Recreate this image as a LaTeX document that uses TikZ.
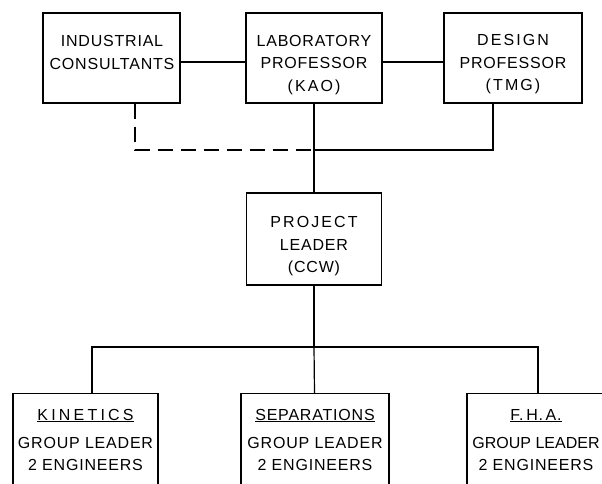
\documentclass[tikz,border=0pt]{standalone}
\usepackage{fontspec}
\setmainfont[LetterSpace=5]{Liberation Sans}
\newfontfamily\Tight{Liberation Sans}
\newfontfamily\Wide[LetterSpace=13]{Liberation Sans}
\newfontfamily\Wider[LetterSpace=20]{Liberation Sans}
\usetikzlibrary{calc}
\tikzset{every scope/.style={line width=1.2pt}}
\tikzstyle{staff_box} =
  [ rectangle
  , draw
  , minimum height=90pt
  ]
\tikzstyle{staff_text} =
  [ align=center
  , inner sep=0pt
  , font=\fontsize{16}{22.5}\selectfont
  ]
\tikzstyle{group_box} =
  [ rectangle
  , draw
  , anchor=north
  , minimum height=92pt
  , inner sep=0pt
  , align=center
  , font=\fontsize{16}{21.5}\selectfont
  ]
\tikzstyle{dashed_link} = [dash pattern=on 15pt off 8pt]
\def\IndustrialConsultants{INDUSTRIAL\\CONSULTANTS}
\def\LaboratoryProfessor{LABORATORY\\PROFESSOR\\{\Wide(KAO)}}
\def\DesignProfessor{{\Wide DESIGN}\\PROFESSOR\\{\Wide(TMG)}}
\def\ProjectLeader{{\Wide PROJECT}\\LEADER\\(CCW)}
\def\Kinetics{\underline{\Wider KINETICS}\\[7pt]GROUP LEADER\\2 ENGINEERS}
\def\Separations{\underline{SEPARATIONS}\\[7pt]GROUP LEADER\\2 ENGINEERS}
\def\FHA{\underline{F.\,H.\,A.}\\[7pt]{\Tight GROUP LEADER}\\2 ENGINEERS}
\begin{document}
\begin{tikzpicture}[x=1pt,y=-1pt]
    \useasboundingbox (0,0) rectangle (602,483);
    \clip (0,0) rectangle (602,483);

    \node[staff_box, minimum width=137pt] (IndustrialConsultants) at (111.5, 58)  {};
    \node[staff_box, minimum width=136pt] (LaboratoryProfessor)   at (314,   58)  {};
    \node[staff_box, minimum width=138pt] (DesignProfessor)       at (513,   58)  {};
    \node[staff_box, minimum width=135pt, minimum height=92pt]
                                          (ProjectLeader)         at (314,  239)  {};

    \node[staff_text] (IndustrialConsultants_text) at (112,   52.5) {\IndustrialConsultants};
    \node[staff_text] (LaboratoryProfessor_text)   at (314,   65)   {\LaboratoryProfessor};
    \node[staff_text] (DesignProfessor_text)       at (513,   64.5) {\DesignProfessor};
    \node[staff_text] (ProjectLeader_text)         at (314,  246.5) {\ProjectLeader};

    \node[group_box, minimum width=145pt] (Kinetics)    at ( 85.5, 393) {\Kinetics};
    \node[group_box, minimum width=148pt] (Separations) at (315,   393) {\Separations};
    \node[group_box, minimum width=138pt] (FHA)         at (536,   393) {\FHA};

    \coordinate (Tee) at (LaboratoryProfessor.south |- 0,150);
    \coordinate (Bus) at (ProjectLeader.south |- 0,347);

    \draw ([yshift=-4pt]IndustrialConsultants.east) -- ([yshift=-4pt]LaboratoryProfessor.west);
    \draw ([yshift=-4pt]LaboratoryProfessor.east)   -- ([yshift=-4pt]DesignProfessor.west);
    \draw (LaboratoryProfessor) -- (ProjectLeader);
    \draw[dashed_link] ([xshift=23.5pt]IndustrialConsultants.south) |- (Tee);
    \draw ([xshift=-20pt]DesignProfessor.south) |- (Tee);

    \draw (ProjectLeader) -- (Bus);
    \draw ([xshift=6.5pt]Kinetics.north) |- (Bus) -| ([xshift=2pt]FHA.north);
    \draw (Bus) -- (Separations);
  \end{tikzpicture}
\end{document}
